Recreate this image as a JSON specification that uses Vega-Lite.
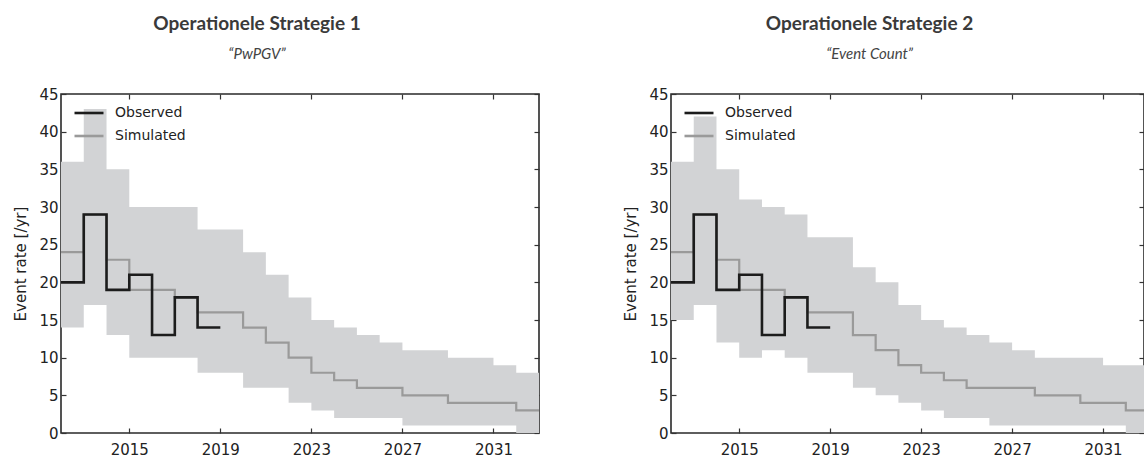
{
  "$schema": "https://vega.github.io/schema/vega-lite/v6.json",
  "padding": {"left": 13, "top": 14, "right": 0, "bottom": 0},
  "background": "white",
  "datasets": {
    "s1": [
      {"year": 2012, "obs": 20, "sim": 24, "lo": 14, "hi": 36},
      {"year": 2013, "obs": 29, "sim": 29, "lo": 17, "hi": 43},
      {"year": 2014, "obs": 19, "sim": 23, "lo": 13, "hi": 35},
      {"year": 2015, "obs": 21, "sim": 19, "lo": 10, "hi": 30},
      {"year": 2016, "obs": 13, "sim": 19, "lo": 10, "hi": 30},
      {"year": 2017, "obs": 18, "sim": 18, "lo": 10, "hi": 30},
      {"year": 2018, "obs": 14, "sim": 16, "lo": 8, "hi": 27},
      {"year": 2019, "obs": 14, "sim": 16, "lo": 8, "hi": 27},
      {"year": 2020, "sim": 14, "lo": 6, "hi": 24},
      {"year": 2021, "sim": 12, "lo": 6, "hi": 21},
      {"year": 2022, "sim": 10, "lo": 4, "hi": 18},
      {"year": 2023, "sim": 8, "lo": 3, "hi": 15},
      {"year": 2024, "sim": 7, "lo": 2, "hi": 14},
      {"year": 2025, "sim": 6, "lo": 2, "hi": 13},
      {"year": 2026, "sim": 6, "lo": 2, "hi": 12},
      {"year": 2027, "sim": 5, "lo": 1, "hi": 11},
      {"year": 2028, "sim": 5, "lo": 1, "hi": 11},
      {"year": 2029, "sim": 4, "lo": 1, "hi": 10},
      {"year": 2030, "sim": 4, "lo": 1, "hi": 10},
      {"year": 2031, "sim": 4, "lo": 1, "hi": 9},
      {"year": 2032, "sim": 3, "lo": 0, "hi": 8},
      {"year": 2033, "sim": 3, "lo": 0, "hi": 8}
    ],
    "s2": [
      {"year": 2012, "obs": 20, "sim": 24, "lo": 15, "hi": 36},
      {"year": 2013, "obs": 29, "sim": 29, "lo": 17, "hi": 42},
      {"year": 2014, "obs": 19, "sim": 23, "lo": 12, "hi": 35},
      {"year": 2015, "obs": 21, "sim": 19, "lo": 10, "hi": 31},
      {"year": 2016, "obs": 13, "sim": 19, "lo": 11, "hi": 30},
      {"year": 2017, "obs": 18, "sim": 18, "lo": 10, "hi": 29},
      {"year": 2018, "obs": 14, "sim": 16, "lo": 8, "hi": 26},
      {"year": 2019, "obs": 14, "sim": 16, "lo": 8, "hi": 26},
      {"year": 2020, "sim": 13, "lo": 6, "hi": 22},
      {"year": 2021, "sim": 11, "lo": 5, "hi": 20},
      {"year": 2022, "sim": 9, "lo": 4, "hi": 17},
      {"year": 2023, "sim": 8, "lo": 3, "hi": 15},
      {"year": 2024, "sim": 7, "lo": 2, "hi": 14},
      {"year": 2025, "sim": 6, "lo": 2, "hi": 13},
      {"year": 2026, "sim": 6, "lo": 1, "hi": 12},
      {"year": 2027, "sim": 6, "lo": 1, "hi": 11},
      {"year": 2028, "sim": 5, "lo": 1, "hi": 10},
      {"year": 2029, "sim": 5, "lo": 1, "hi": 10},
      {"year": 2030, "sim": 4, "lo": 1, "hi": 10},
      {"year": 2031, "sim": 4, "lo": 1, "hi": 9},
      {"year": 2032, "sim": 3, "lo": 0, "hi": 9},
      {"year": 2033, "sim": 3, "lo": 0, "hi": 9}
    ]
  },
  "spacing": 132,
  "bounds": "flush",
  "hconcat": [
    {
      "title": {"text": "Operationele Strategie 1", "subtitle": "“PwPGV”", "dx": -43},
      "width": 478,
      "height": 339,
      "data": {"name": "s1"},
      "layer": [
        {
          "mark": {"type": "area", "interpolate": "step-after", "color": "#d2d3d5", "clip": true},
          "encoding": {
            "x": {"field": "year", "type": "quantitative", "scale": {"domain": [2012, 2033], "nice": false, "zero": false},
                  "axis": {"orient": "bottom", "values": [2015, 2019, 2023, 2027, 2031], "format": "d", "title": null}},
            "y": {"field": "lo", "type": "quantitative", "scale": {"domain": [0, 45], "nice": false},
                  "axis": {"orient": "left", "values": [0, 5, 10, 15, 20, 25, 30, 35, 40, 45], "title": "Event rate [/yr]"}},
            "y2": {"field": "hi"}
          }
        },
        {
          "mark": {"type": "line", "interpolate": "step-after", "strokeWidth": 2.2, "clip": true},
          "encoding": {
            "x": {"field": "year", "type": "quantitative", "axis": {"orient": "top", "values": [2015, 2019, 2023, 2027, 2031], "labels": false, "title": null}},
            "y": {"field": "sim", "type": "quantitative", "axis": {"orient": "right", "values": [0, 5, 10, 15, 20, 25, 30, 35, 40, 45], "labels": false, "title": null}},
            "color": {"datum": "Simulated", "type": "nominal", "scale": {"domain": ["Observed", "Simulated"], "range": ["#1c1c1c", "#9a9a9a"]}}
          }
        },
        {
          "mark": {"type": "line", "interpolate": "step-after", "strokeWidth": 2.6, "clip": true},
          "encoding": {
            "x": {"field": "year", "type": "quantitative", "axis": null},
            "y": {"field": "obs", "type": "quantitative", "axis": null},
            "color": {"datum": "Observed", "type": "nominal"}
          }
        }
      ]
    },
    {
      "title": {"text": "Operationele Strategie 2", "subtitle": "“Event Count”", "dx": -38},
      "width": 473,
      "height": 339,
      "data": {"name": "s2"},
      "layer": [
        {
          "mark": {"type": "area", "interpolate": "step-after", "color": "#d2d3d5", "clip": true},
          "encoding": {
            "x": {"field": "year", "type": "quantitative", "scale": {"domain": [2012, 2032.8], "nice": false, "zero": false},
                  "axis": {"orient": "bottom", "values": [2015, 2019, 2023, 2027, 2031], "format": "d", "title": null}},
            "y": {"field": "lo", "type": "quantitative", "scale": {"domain": [0, 45], "nice": false},
                  "axis": {"orient": "left", "values": [0, 5, 10, 15, 20, 25, 30, 35, 40, 45], "title": "Event rate [/yr]"}},
            "y2": {"field": "hi"}
          }
        },
        {
          "mark": {"type": "line", "interpolate": "step-after", "strokeWidth": 2.2, "clip": true},
          "encoding": {
            "x": {"field": "year", "type": "quantitative", "axis": {"orient": "top", "values": [2015, 2019, 2023, 2027, 2031], "labels": false, "title": null}},
            "y": {"field": "sim", "type": "quantitative", "axis": {"orient": "right", "values": [0, 5, 10, 15, 20, 25, 30, 35, 40, 45], "labels": false, "title": null}},
            "color": {"datum": "Simulated", "type": "nominal", "scale": {"domain": ["Observed", "Simulated"], "range": ["#1c1c1c", "#9a9a9a"]}}
          }
        },
        {
          "mark": {"type": "line", "interpolate": "step-after", "strokeWidth": 2.6, "clip": true},
          "encoding": {
            "x": {"field": "year", "type": "quantitative", "axis": null},
            "y": {"field": "obs", "type": "quantitative", "axis": null},
            "color": {"datum": "Observed", "type": "nominal"}
          }
        }
      ]
    }
  ],
  "resolve": {"scale": {"color": "independent"}, "legend": {"color": "independent"}},
  "config": {
    "view": {"stroke": "#2a2a2a", "strokeWidth": 1.6},
    "axis": {
      "domain": false, "grid": false, "tickSize": -5, "tickColor": "#333", "tickWidth": 1.2,
      "labelFont": "DejaVu Sans", "labelFontSize": 15, "labelColor": "#222", "labelPadding": 8,
      "titleFont": "DejaVu Sans", "titleFontSize": 15, "titleFontWeight": "normal", "titleColor": "#222", "titlePadding": 10
    },
    "axisBottom": {"labelPadding": 14},
    "legend": {
      "orient": "none", "legendX": 12, "legendY": 3, "title": null, "padding": 0,
      "labelFont": "DejaVu Sans", "labelFontSize": 14, "labelColor": "#222", "labelOffset": 10,
      "symbolType": "stroke", "symbolSize": 840, "symbolStrokeWidth": 2.6, "rowPadding": -12
    },
    "title": {
      "font": "Lato", "fontSize": 19, "fontWeight": "bold", "color": "#3a3a3a", "anchor": "middle",
      "subtitleFont": "Lato", "subtitleFontSize": 15, "subtitleFontStyle": "italic", "subtitleColor": "#444",
      "subtitlePadding": 13, "offset": 25
    }
  }
}
